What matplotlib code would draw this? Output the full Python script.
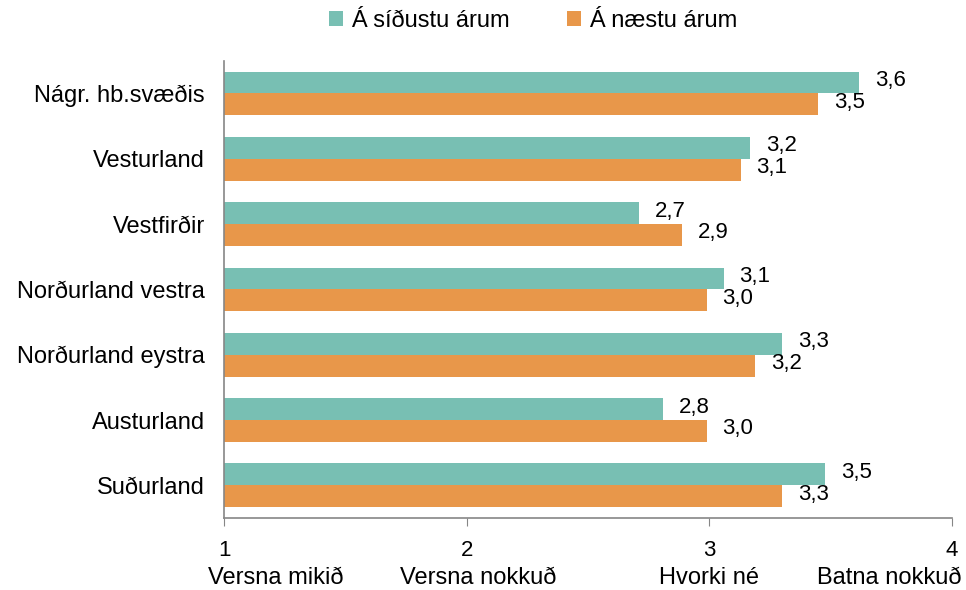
import matplotlib
matplotlib.use("Agg")
import matplotlib.pyplot as plt
import numpy as np

plt.rcParams['font.family'] = ['Liberation Sans', 'DejaVu Sans']

categories = ["Nágr. hb.svæðis", "Vesturland", "Vestfirðir", "Norðurland vestra",
              "Norðurland eystra", "Austurland", "Suðurland"]
sidustu = [3.62, 3.17, 2.71, 3.06, 3.30, 2.81, 3.48]
naestu = [3.45, 3.13, 2.89, 2.99, 3.19, 2.99, 3.30]
series_names = ["Á síðustu árum", "Á næstu árum"]
tick_values = [1, 2, 3, 4]
scale_labels = ["Versna mikið", "Versna nokkuð", "Hvorki né", "Batna nokkuð"]

teal = "#78BFB3"
orange = "#E8974A"
axcol = "#868686"

fig = plt.figure(figsize=(9.66, 5.90), dpi=100)
ax = fig.add_axes([0.232, 0.122, 0.753, 0.775])

y = np.arange(len(categories))
h = 0.335
b1 = ax.barh(y - h / 2, [v - 1 for v in sidustu], left=1, height=h, color=teal,
             label=series_names[0])
b2 = ax.barh(y + h / 2, [v - 1 for v in naestu], left=1, height=h, color=orange,
             label=series_names[1])

def fmt(v):
    return f"{v:.1f}".replace(".", ",")

for bars, vals in ((b1, sidustu), (b2, naestu)):
    for bar, v in zip(bars, vals):
        ax.annotate(fmt(v), xy=(v, bar.get_y() + bar.get_height() / 2),
                    xytext=(11.5, 1.5), textcoords="offset points", ha="left", va="center",
                    fontsize=16, color="black")

ax.set_ylim(len(categories) - 0.5, -0.5)
ax.set_xlim(1, 4)
ax.set_yticks(y)
ax.set_yticklabels(categories, fontsize=17)
ax.tick_params(axis="y", length=0, pad=14)
ax.set_xticks(tick_values)
ax.set_xticklabels([str(t) for t in tick_values], fontsize=16)
ax.tick_params(axis="x", length=6, color=axcol, pad=10)

for s in ["top", "right"]:
    ax.spines[s].set_visible(False)
for s in ["left", "bottom"]:
    ax.spines[s].set_color(axcol)
    ax.spines[s].set_linewidth(1.2)

label_x = [1.214, 2.047, 3.0, 3.744]
for lx, lab in zip(label_x, scale_labels):
    ax.text(lx, -0.132, lab, transform=ax.get_xaxis_transform(), ha="center", va="center",
            fontsize=17)

leg = fig.legend(handles=[b1, b2], labels=series_names, loc="center",
                 bbox_to_anchor=(0.552, 0.964), ncol=2, frameon=False, fontsize=17,
                 handlelength=0.6, handleheight=0.6, handletextpad=0.35, columnspacing=2.4)

fig.savefig("out.png", dpi=100)
